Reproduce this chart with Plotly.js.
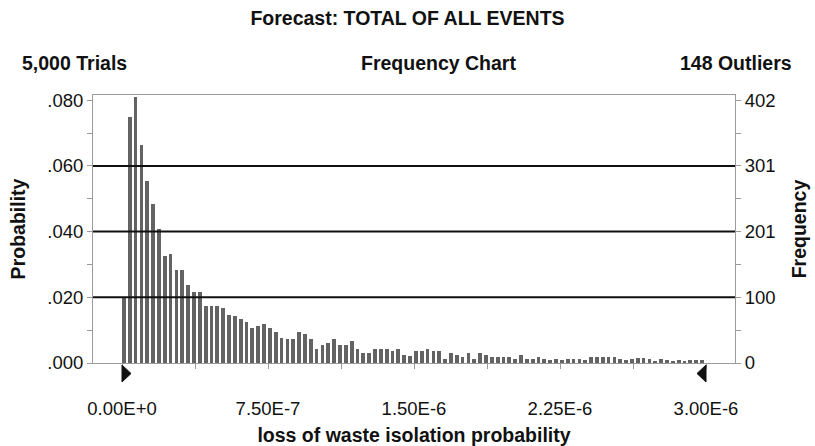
<!DOCTYPE html>
<html><head><meta charset="utf-8">
<script src="https://cdn.plot.ly/plotly-3.0.1.min.js"></script>
<style>html,body{margin:0;padding:0;background:#fff}#chart{width:815px;height:446px}</style>
</head><body><div id="chart"></div>
<script>
const chartTitle = 'Forecast: TOTAL OF ALL EVENTS';
const trialsLabel = '5,000 Trials';
const chartKind = 'Frequency Chart';
const outliersLabel = '148 Outliers';
const xTitle = 'loss of waste isolation probability';
const leftTitle = 'Probability';
const rightTitle = 'Frequency';

const binStart = 0;
const binWidth = 3e-8;
const frequencies = [
  100, 377, 407, 333, 278, 244, 205, 163, 166, 143, 143, 119, 109, 109, 87, 87, 87, 84, 74, 72, 68, 63, 54, 57, 59, 54,
  48, 39, 36, 36, 48, 45, 36, 21, 28, 30, 36, 28, 28, 33,
  21, 16, 16, 21, 21, 21, 18, 21, 12, 10, 18, 18, 21, 18, 18, 6, 16, 12, 9, 16,
  6, 16, 12, 9, 9, 9, 9, 6, 12, 6, 6, 9, 6, 4, 6, 4, 6, 6, 6, 4, 9,
  9, 9, 9, 9, 6, 5, 6, 7, 8, 6, 3, 6, 4, 3, 4, 3, 4, 4, 4
];

const xTickVals = [0, 3.75e-7, 7.5e-7, 1.125e-6, 1.5e-6, 1.875e-6, 2.25e-6, 2.625e-6, 3e-6];
const xTickText = ['0.00E+0', '', '7.50E-7', '', '1.50E-6', '', '2.25E-6', '', '3.00E-6'];
const yTickVals = [0, 50.25, 100.5, 150.75, 201, 251.25, 301.5, 351.75, 402];
const probTickText = ['.000', '', '.020', '', '.040', '', '.060', '', '.080'];
const freqTickText = ['0', '', '100', '', '201', '', '301', '', '402'];
const gridVals = [100.5, 201, 301.5];
const certaintyRange = [0, 3e-6];

const xRange = [-1.49e-7, 3.149e-6];
const yRange = [0, 410];

const binX = frequencies.map((_, i) => binStart + i * binWidth);

const font = 'Liberation Sans, Arial, Helvetica, sans-serif';
const frameColor = '#9a9a9a';
const boldSize = 19.5;
const tickSize = 18.5;

const bars = {
  type: 'bar', x: binX, y: frequencies,
  width: binWidth * 0.64, offset: 0,
  marker: {color: '#636363', line: {width: 0}},
  hoverinfo: 'skip', showlegend: false
};
const ghost = {type: 'scatter', mode: 'markers', x: [xRange[0]], y: [0], yaxis: 'y2',
  marker: {opacity: 0}, hoverinfo: 'skip', showlegend: false};

const commonY = {
  range: yRange, tickmode: 'array', tickvals: yTickVals,
  ticks: 'outside', ticklen: 5, tickcolor: frameColor, tickwidth: 1,
  showgrid: false, zeroline: false, showline: true, linecolor: frameColor, linewidth: 1,
  tickfont: {family: font, size: tickSize, color: '#111'}, fixedrange: true
};
const boldFont = {family: font, size: boldSize, color: '#111', weight: 'bold'};

const triangle = (xv, dir) => ({
  type: 'path', xref: 'x', yref: 'paper', xsizemode: 'pixel', ysizemode: 'pixel',
  xanchor: xv, yanchor: 0,
  path: `M0,-2 L0,-19 L${9 * dir},-10.5 Z`,
  fillcolor: '#111', line: {color: '#111', width: 1}, layer: 'above'
});

const layout = {
  width: 815, height: 446,
  margin: {l: 93, r: 80, t: 95, b: 83},
  paper_bgcolor: '#fff', plot_bgcolor: '#fff',
  bargap: 0,
  title: {text: chartTitle, font: boldFont,
          xref: 'container', x: 0.5, xanchor: 'center', yref: 'container', y: 1 - 18 / 446, yanchor: 'middle'},
  xaxis: {
    range: xRange, tickmode: 'array', tickvals: xTickVals, ticktext: xTickText,
    ticks: 'outside', ticklen: 5, tickcolor: frameColor, tickwidth: 1,
    ticklabelstandoff: 24,
    showgrid: false, zeroline: false, showline: true, linecolor: frameColor, linewidth: 1, mirror: true,
    tickfont: {family: font, size: tickSize, color: '#111'},
    title: {text: xTitle, font: boldFont, standoff: 13},
    fixedrange: true
  },
  yaxis: Object.assign({}, commonY, {
    ticktext: probTickText, side: 'left',
    title: {text: leftTitle, font: boldFont, standoff: 16}
  }),
  yaxis2: Object.assign({}, commonY, {
    ticktext: freqTickText, side: 'right', overlaying: 'y',
    title: {text: rightTitle, font: boldFont, standoff: 17}
  }),
  shapes: gridVals.map(v => ({
    type: 'line', xref: 'paper', x0: 0, x1: 1, yref: 'y', y0: v, y1: v,
    line: {color: '#111', width: 2}, layer: 'above'
  })).concat([triangle(certaintyRange[0], 1), triangle(certaintyRange[1], -1)]),
  annotations: [
    {text: trialsLabel, xref: 'paper', yref: 'paper', x: (20 - 93) / 642, y: (363 - 63) / 268, xanchor: 'left', yanchor: 'middle', showarrow: false, font: boldFont},
    {text: chartKind, xref: 'paper', yref: 'paper', x: (438 - 93) / 642, y: (363 - 63) / 268, xanchor: 'center', yanchor: 'middle', showarrow: false, font: boldFont},
    {text: outliersLabel, xref: 'paper', yref: 'paper', x: (794 - 93) / 642, y: (363 - 63) / 268, xanchor: 'right', yanchor: 'middle', showarrow: false, font: boldFont}
  ]
};

Plotly.newPlot('chart', [bars, ghost], layout, {staticPlot: true, displayModeBar: false});
</script>
</body></html>
